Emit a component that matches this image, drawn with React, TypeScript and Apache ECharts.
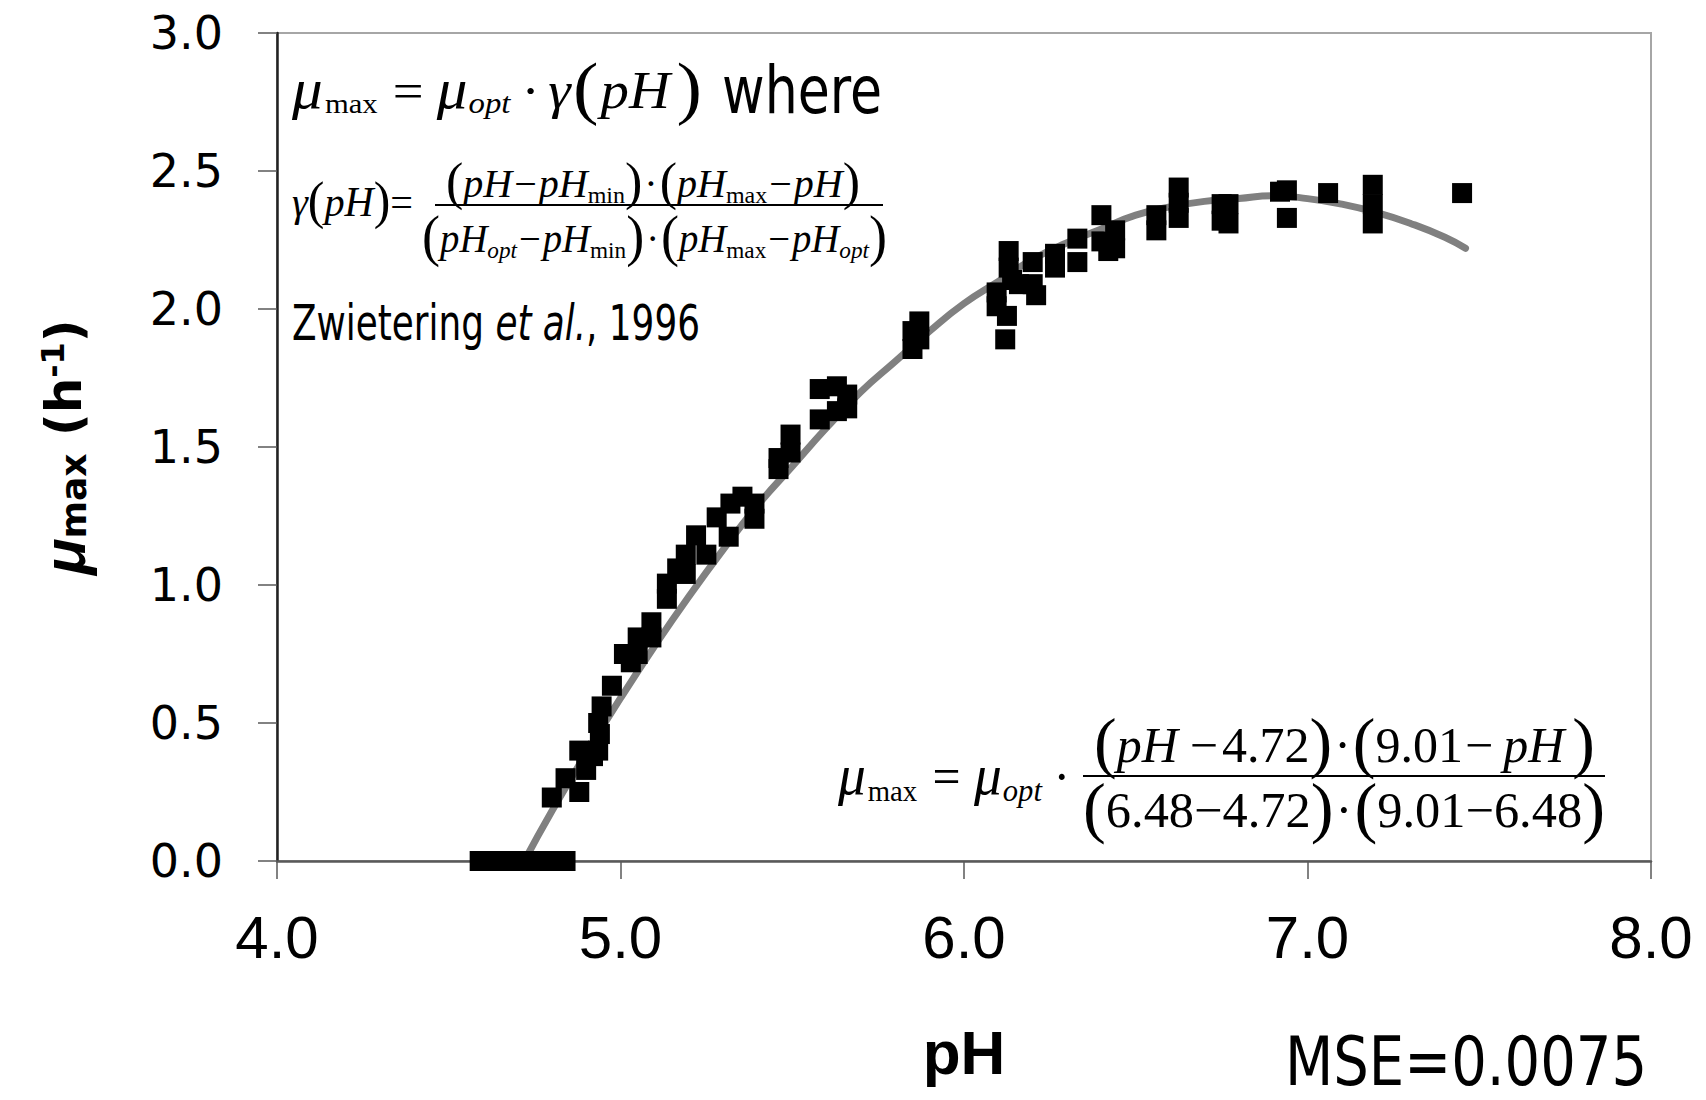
import React, { useEffect, useRef } from "react";
import * as echarts from "echarts";

// Observed growth rates [pH, mu_max (1/h)]
const observed: [number, number][] = [
  [4.59, 0], [4.62, 0], [4.65, 0], [4.68, 0], [4.71, 0], [4.74, 0], [4.77, 0], [4.8, 0], [4.84, 0],
  [4.8, 0.23], [4.84, 0.3], [4.88, 0.25], [4.88, 0.4], [4.9, 0.33], [4.92, 0.38],
  [4.935, 0.5], [4.935, 0.4], [4.94, 0.46], [4.945, 0.56], [4.975, 0.635],
  [5.01, 0.75], [5.03, 0.72], [5.05, 0.81], [5.05, 0.75], [5.09, 0.865], [5.09, 0.81],
  [5.135, 1.005], [5.135, 0.95], [5.165, 1.06], [5.19, 1.04], [5.19, 1.11], [5.25, 1.11],
  [5.22, 1.18], [5.28, 1.245], [5.315, 1.175], [5.32, 1.295], [5.355, 1.32], [5.39, 1.295],
  [5.39, 1.24], [5.46, 1.46], [5.46, 1.42], [5.495, 1.545], [5.495, 1.48],
  [5.58, 1.71], [5.58, 1.6], [5.63, 1.72], [5.63, 1.63], [5.66, 1.69], [5.66, 1.64],
  [5.85, 1.92], [5.85, 1.855], [5.87, 1.955], [5.87, 1.89],
  [6.095, 2.06], [6.095, 2.01], [6.12, 1.89], [6.125, 1.975], [6.13, 2.21], [6.13, 2.15],
  [6.14, 2.105], [6.16, 2.09], [6.2, 2.17], [6.2, 2.09], [6.21, 2.05],
  [6.265, 2.2], [6.265, 2.15], [6.33, 2.255], [6.33, 2.17], [6.4, 2.34], [6.4, 2.245],
  [6.42, 2.21], [6.44, 2.285], [6.44, 2.22], [6.56, 2.34], [6.56, 2.285],
  [6.625, 2.44], [6.625, 2.385], [6.625, 2.33], [6.75, 2.38], [6.75, 2.32], [6.77, 2.38], [6.77, 2.31],
  [6.92, 2.425], [6.94, 2.43], [6.94, 2.33], [7.06, 2.42], [7.19, 2.45], [7.19, 2.38], [7.19, 2.31],
  [7.45, 2.42],
];

// Fitted cardinal pH model curve
const fitPH = [4.72, 4.8, 4.9, 5.0, 5.1, 5.2, 5.3, 5.4, 5.5, 5.6, 5.7, 5.8, 5.9, 6.0, 6.1, 6.2, 6.3, 6.4, 6.5, 6.6, 6.7, 6.8, 6.9, 7.0, 7.1, 7.2, 7.3, 7.4, 7.46];
const fitMu = [0, 0.18, 0.39, 0.59, 0.78, 0.96, 1.13, 1.29, 1.43, 1.57, 1.7, 1.81, 1.92, 2.02, 2.1, 2.18, 2.24, 2.29, 2.34, 2.37, 2.39, 2.4, 2.41, 2.4, 2.38, 2.35, 2.31, 2.26, 2.22];

const xTickLabels = ["4.0", "5.0", "6.0", "7.0", "8.0"];
const yTickLabels = ["0.0", "0.5", "1.0", "1.5", "2.0", "2.5", "3.0"];

const SERIF = "'Liberation Serif','Times New Roman',serif";
const SANS = "'Liberation Sans',Arial,Helvetica,sans-serif";
const NARROW = "'Liberation Sans Narrow','Arial Narrow','DejaVu Sans Condensed','Liberation Sans',sans-serif";
const WIDE = "'DejaVu Sans','Verdana',sans-serif";

type Piece = { t: string; s: number; i?: boolean; b?: boolean; f?: string; dy?: number; g?: number; lh?: number };

let measureCtx: CanvasRenderingContext2D | null = null;
function textWidth(text: string, font: string): number {
  if (!measureCtx) measureCtx = document.createElement("canvas").getContext("2d");
  if (!measureCtx) return text.length * 20;
  measureCtx.font = font;
  return measureCtx.measureText(text).width;
}

function row(pieces: Piece[], x0: number, base: number, width?: number): any {
  let cx = 0;
  const children: any[] = [];
  for (const p of pieces) {
    cx += p.g || 0;
    const fam = p.f || SERIF;
    const font = `${p.i ? "italic " : ""}${p.b ? "bold " : ""}${p.s}px ${fam}`;
    const w = textWidth(p.t, font);
    children.push({
      type: "text",
      x: cx,
      y: (p.dy || 0) - 0.34 * p.s,
      style: {
        text: p.t,
        fontSize: p.s,
        fontFamily: fam,
        fontStyle: p.i ? "italic" : "normal",
        fontWeight: p.b ? "bold" : "normal",
        lineHeight: p.lh || p.s,
        fill: "#000",
        align: "left",
        verticalAlign: "middle",
      },
    });
    cx += w;
  }
  const sx = width ? width / cx : 1;
  return { type: "group", x: x0, y: base, scaleX: sx, children };
}

function hline(x1: number, x2: number, y: number): any {
  return { type: "line", shape: { x1, y1: y, x2, y2: y }, style: { stroke: "#000", lineWidth: 2 } };
}

export default function App() {
  const ref = useRef<HTMLDivElement>(null);

  useEffect(() => {
    if (!ref.current) return;
    const chart = echarts.init(ref.current, undefined, { renderer: "svg" });

    const graphics: any[] = [
      // mu_max = mu_opt . gamma(pH)
      row(
        [
          { t: "μ", s: 56, i: true },
          { t: "max", s: 28, dy: 5, g: 2 },
          { t: "=", s: 50, g: 14 },
          { t: "μ", s: 56, i: true, g: 12 },
          { t: "opt", s: 30, i: true, dy: 5, g: 1 },
          { t: "·", s: 50, g: 10 },
          { t: "γ", s: 52, i: true, g: 8 },
          { t: "(", s: 70, dy: 3, g: 2 },
          { t: "pH", s: 52, i: true, g: 2 },
          { t: ")", s: 70, dy: 3, g: 6 },
        ],
        292, 108, 410
      ),
      row([{ t: "where", s: 66, f: NARROW }], 722, 113, 160),
      // gamma(pH) =
      row(
        [
          { t: "γ", s: 42, i: true },
          { t: "(", s: 52, dy: 2 },
          { t: "pH", s: 42, i: true },
          { t: ")", s: 52, dy: 2 },
          { t: "=", s: 42 },
        ],
        292, 216, 121
      ),
      row(
        [
          { t: "(", s: 52, dy: 2 },
          { t: "pH", s: 40, i: true },
          { t: "−", s: 40, g: 2 },
          { t: "pH", s: 40, i: true, g: 2 },
          { t: "min", s: 24, dy: 6 },
          { t: ")", s: 52, dy: 2 },
          { t: "·", s: 40, g: 2 },
          { t: "(", s: 52, dy: 2, g: 2 },
          { t: "pH", s: 40, i: true },
          { t: "max", s: 24, dy: 6 },
          { t: "−", s: 40, g: 2 },
          { t: "pH", s: 40, i: true, g: 2 },
          { t: ")", s: 52, dy: 2 },
        ],
        446, 197, 414
      ),
      hline(435, 883, 205),
      row(
        [
          { t: "(", s: 56, dy: 3 },
          { t: "pH", s: 40, i: true },
          { t: "opt", s: 24, i: true, dy: 6 },
          { t: "−", s: 40, g: 2 },
          { t: "pH", s: 40, i: true, g: 2 },
          { t: "min", s: 24, dy: 6 },
          { t: ")", s: 56, dy: 3 },
          { t: "·", s: 40, g: 2 },
          { t: "(", s: 56, dy: 3, g: 2 },
          { t: "pH", s: 40, i: true },
          { t: "max", s: 24, dy: 6 },
          { t: "−", s: 40, g: 2 },
          { t: "pH", s: 40, i: true, g: 2 },
          { t: "opt", s: 24, i: true, dy: 6 },
          { t: ")", s: 56, dy: 3 },
        ],
        422, 252, 465
      ),
      // reference
      row(
        [
          { t: "Zwietering ", s: 50, f: NARROW },
          { t: "et al.", s: 50, f: NARROW, i: true },
          { t: ", 1996", s: 50, f: NARROW },
        ],
        292, 340, 408
      ),
      // fitted model
      row(
        [
          { t: "μ", s: 58, i: true },
          { t: "max", s: 30, dy: 7, g: 2 },
          { t: "=", s: 52, g: 16 },
          { t: "μ", s: 58, i: true, g: 14 },
          { t: "opt", s: 32, i: true, dy: 7, g: 1 },
          { t: "·", s: 52, g: 12 },
        ],
        838, 794, 232
      ),
      row(
        [
          { t: "(", s: 68, dy: 3 },
          { t: "pH", s: 50, i: true },
          { t: "−", s: 50, g: 12 },
          { t: "4.72", s: 50, g: 4 },
          { t: ")", s: 68, dy: 3 },
          { t: "·", s: 50, g: 2 },
          { t: "(", s: 68, dy: 3, g: 2 },
          { t: "9.01", s: 50 },
          { t: "−", s: 50, g: 2 },
          { t: "pH", s: 50, i: true, g: 10 },
          { t: ")", s: 68, dy: 3, g: 8 },
        ],
        1094, 762, 501
      ),
      hline(1083, 1605, 776),
      row(
        [
          { t: "(", s: 68, dy: 3 },
          { t: "6.48", s: 50 },
          { t: "−", s: 50 },
          { t: "4.72", s: 50 },
          { t: ")", s: 68, dy: 3 },
          { t: "·", s: 50, g: 2 },
          { t: "(", s: 68, dy: 3, g: 2 },
          { t: "9.01", s: 50 },
          { t: "−", s: 50 },
          { t: "6.48", s: 50 },
          { t: ")", s: 68, dy: 3 },
        ],
        1083, 827, 522
      ),
      row([{ t: "MSE=0.0075", s: 67, f: NARROW, lh: 50 }], 1285, 1084, 362),
    ];

    const option: any = {
      animation: false,
      backgroundColor: "#ffffff",
      grid: {
        left: 277,
        top: 33,
        width: 1374,
        height: 828,
        show: true,
        borderColor: "#a6a6a6",
        borderWidth: 2,
        backgroundColor: "transparent",
      },
      xAxis: {
        type: "value",
        min: 4,
        max: 8,
        interval: 1,
        name: "pH",
        nameLocation: "middle",
        nameGap: 160,
        nameTextStyle: { fontSize: 62, fontWeight: "bold", fontFamily: SANS, color: "#000" },
        axisLine: { show: true, onZero: false, lineStyle: { color: "#595959", width: 2.5 } },
        axisTick: { show: true, inside: false, length: 18, lineStyle: { color: "#595959", width: 1.5 } },
        axisLabel: {
          margin: 46,
          fontSize: 60,
          fontFamily: SANS,
          color: "#000",
          formatter: (v: number) => xTickLabels[Math.round(v - 4)] ?? "",
        },
        splitLine: { show: false },
      },
      yAxis: {
        type: "value",
        min: 0,
        max: 3,
        interval: 0.5,
        name: "{mu|μ}{sub|max}{n| (h}{sup|-1}{n|)}",
        nameLocation: "middle",
        nameRotate: 90,
        nameGap: 186,
        nameTextStyle: {
          color: "#000",
          rich: {
            mu: { fontSize: 60, fontWeight: "bold", fontStyle: "italic", fontFamily: SANS, lineHeight: 54, color: "#000" },
            sub: { fontSize: 36, fontWeight: "bold", fontFamily: WIDE, lineHeight: 34, verticalAlign: "bottom", color: "#000" },
            n: { fontSize: 50, fontWeight: "bold", fontFamily: WIDE, lineHeight: 54, color: "#000" },
            sup: { fontSize: 32, fontWeight: "bold", fontFamily: WIDE, lineHeight: 30, verticalAlign: "top", color: "#000" },
          },
        },
        axisLine: { show: true, onZero: false, lineStyle: { color: "#222", width: 2.5 } },
        axisTick: { show: true, inside: false, length: 19, lineStyle: { color: "#595959", width: 1.5 } },
        axisLabel: {
          margin: 54,
          fontSize: 46,
          fontFamily: WIDE,
          color: "#000",
          formatter: (v: number) => yTickLabels[Math.round(v * 2)] ?? "",
        },
        splitLine: { show: false },
      },
      series: [
        {
          type: "line",
          data: fitPH.map((x, k) => [x, fitMu[k]]),
          smooth: true,
          showSymbol: false,
          symbol: "none",
          lineStyle: { color: "#808080", width: 7, cap: "round", opacity: 1 },
          z: 2,
          silent: true,
        },
        {
          type: "scatter",
          data: observed,
          symbol: "rect",
          symbolSize: 20,
          itemStyle: { color: "#000", opacity: 1 },
          clip: false,
          z: 3,
        },
      ],
      graphic: { elements: graphics },
    };

    chart.setOption(option);
    return () => chart.dispose();
  }, []);

  return (
    <div
      ref={ref}
      style={{ position: "fixed", left: 0, top: 0, width: 1706, height: 1100, background: "#fff" }}
    />
  );
}
